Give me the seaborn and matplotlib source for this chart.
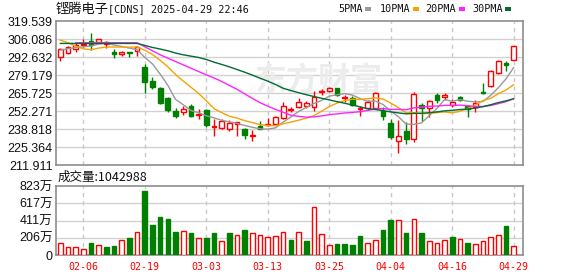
import numpy as np
import pandas as pd
import matplotlib
matplotlib.use("Agg")
import matplotlib.pyplot as plt
import seaborn as sns

# ---------------- data ----------------
dates = ["02-03", "02-04", "02-05", "02-06", "02-07", "02-10", "02-11", "02-12", "02-13", "02-14",
         "02-18", "02-19", "02-20", "02-21", "02-24", "02-25", "02-26", "02-27", "02-28",
         "03-03", "03-04", "03-05", "03-06", "03-07", "03-10", "03-11", "03-12", "03-13", "03-14",
         "03-17", "03-18", "03-19", "03-20", "03-21", "03-24", "03-25", "03-26", "03-27", "03-28",
         "03-31", "04-01", "04-02", "04-03", "04-04", "04-07", "04-08", "04-09", "04-10", "04-11",
         "04-14", "04-15", "04-16", "04-17", "04-21", "04-22", "04-23", "04-24", "04-25", "04-28",
         "04-29"]

opens = [293.1, 296.0, 298.6, 301.5, 304.6, 304.3, 302.6, 296.9, 294.9, 296.6,
         297.6, 285.6, 274.9, 269.7, 262.5, 252.8, 251.5, 256.3, 249.5, 253.3,
         240.8, 239.8, 238.8, 243.0, 238.8, 233.8, 241.3, 242.0, 243.1, 247.6,
         253.0, 255.8, 256.3, 255.3, 267.0, 267.8, 269.8, 262.3, 262.3, 253.8,
         254.8, 254.8, 252.8, 243.3, 229.8, 237.6, 231.3, 257.0, 255.0, 264.5,
         262.7, 257.3, 263.0, 256.3, 255.3, 267.0, 271.0, 280.7, 288.6, 290.4]
highs = [299.4, 301.1, 303.6, 306.5, 310.5, 306.5, 304.5, 298.8, 297.6, 296.6,
         301.1, 287.4, 277.7, 270.7, 263.2, 254.5, 256.3, 257.8, 253.8, 253.8,
         246.3, 246.3, 245.8, 244.3, 239.5, 238.3, 244.8, 247.0, 248.6, 259.1,
         255.3, 262.0, 259.8, 267.5, 268.8, 270.2, 269.8, 264.8, 263.8, 256.3,
         260.8, 267.0, 255.3, 246.8, 245.8, 244.6, 267.0, 258.8, 260.8, 266.2,
         265.7, 261.8, 263.7, 257.0, 260.8, 273.7, 283.2, 290.6, 290.1, 300.9]
lows = [290.1, 295.0, 296.8, 300.0, 298.1, 303.0, 299.3, 292.4, 293.9, 292.6,
        293.7, 265.7, 269.0, 257.8, 252.0, 247.5, 249.8, 248.3, 246.3, 240.8,
        233.8, 238.8, 237.8, 234.1, 231.8, 230.3, 239.3, 241.5, 242.1, 246.6,
        251.8, 254.5, 254.8, 252.8, 264.8, 266.8, 263.8, 259.3, 256.3, 249.1,
        253.0, 254.3, 245.8, 231.8, 221.3, 227.9, 229.6, 245.3, 248.3, 258.3,
        260.8, 255.3, 259.8, 248.3, 252.0, 265.2, 270.7, 280.2, 282.7, 290.4]
closes = [298.6, 300.1, 302.0, 302.5, 301.6, 306.1, 303.8, 294.9, 296.9, 295.9,
          300.6, 274.4, 270.7, 258.8, 253.3, 248.8, 254.3, 249.1, 250.3, 241.8,
          241.3, 244.8, 243.8, 244.0, 234.3, 234.6, 239.3, 243.0, 248.1, 256.1,
          253.8, 259.3, 258.3, 262.8, 267.8, 269.8, 264.5, 262.8, 257.3, 254.8,
          259.3, 266.0, 249.1, 232.8, 233.8, 231.6, 265.2, 254.8, 259.8, 260.8,
          264.2, 259.3, 260.8, 253.8, 258.3, 266.0, 282.2, 289.9, 286.6, 300.9]

# volume in 万 (10k shares)
volume_wan = [139, 91, 91, 68, 143, 115, 95, 107, 175, 203,
              270, 763, 358, 453, 429, 274, 282, 262, 199, 203,
              262, 167, 262, 235, 298, 258, 235, 215, 223, 274,
              181, 274, 167, 569, 247, 115, 131, 131, 119, 227,
              143, 175, 298, 417, 413, 262, 425, 262, 167, 143,
              175, 215, 187, 143, 127, 167, 211, 235, 346, 104]
# 1 = red (up vs previous close), 0 = green
vol_up = [1, 1, 1, 1, 0, 1, 0, 0, 1, 0,
          1, 0, 0, 0, 0, 0, 1, 0, 1, 0,
          0, 1, 0, 1, 0, 1, 1, 1, 1, 1,
          0, 1, 0, 1, 1, 1, 0, 0, 0, 0,
          1, 1, 0, 0, 1, 0, 1, 0, 1, 1,
          1, 0, 1, 0, 1, 1, 1, 1, 0, 1]

ma5 = [298.0, 299.0, 300.0, 300.5, 301.0, 302.5, 303.2, 301.8, 300.7, 299.5,
       298.4, 292.5, 287.7, 280.1, 271.6, 261.2, 257.2, 252.9, 251.2, 248.9,
       247.4, 245.5, 244.4, 243.2, 241.7, 240.3, 239.2, 238.9, 239.9, 244.2,
       248.1, 252.1, 255.1, 258.1, 260.4, 263.6, 264.6, 265.5, 264.4, 261.8,
       259.7, 260.0, 257.3, 252.4, 248.2, 242.7, 242.5, 243.6, 249.0, 254.4,
       261.0, 259.8, 261.0, 259.8, 259.3, 259.6, 264.2, 270.0, 276.6, 285.1]
ma10 = [305.5, 303.5, 301.0, 299.0, 298.3, 299.5, 300.3, 300.3, 300.3, 300.2,
        300.4, 297.9, 294.7, 290.4, 285.5, 279.8, 274.9, 270.3, 265.6, 260.2,
        254.3, 251.3, 248.6, 247.2, 245.3, 243.8, 242.3, 241.7, 241.5, 242.9,
        244.2, 245.6, 247.1, 249.0, 252.3, 255.8, 258.4, 260.3, 261.3, 261.1,
        261.7, 262.3, 261.4, 258.4, 255.0, 251.2, 251.3, 250.5, 250.7, 251.3,
        251.8, 251.1, 252.3, 254.4, 256.9, 260.3, 262.0, 265.5, 268.2, 272.2]
ma20 = [np.nan, np.nan, 303.5, 303.5, 303.5, 303.5, 303.5, 303.5, 303.5, 303.5,
        303.5, 300.5, 297.5, 294.5, 292.0, 289.5, 287.0, 284.5, 282.0, 279.5,
        277.2, 274.6, 271.6, 268.7, 265.3, 261.9, 258.7, 256.1, 253.7, 251.6,
        249.3, 248.5, 247.9, 248.1, 248.8, 249.8, 250.3, 251.0, 251.4, 252.0,
        252.9, 254.0, 254.3, 253.7, 253.7, 253.5, 254.8, 255.4, 256.0, 256.2,
        256.7, 256.7, 256.9, 256.4, 255.9, 255.8, 256.6, 258.0, 259.5, 261.8]
ma30 = [303.0, 303.0, 303.0, 303.0, 303.0, 303.0, 303.0, 303.0, 303.0, 303.0,
        303.0, 301.5, 300.0, 298.8, 297.5, 295.8, 294.5, 293.5, 292.5, 291.0,
        289.0, 287.3, 285.5, 283.5, 281.5, 279.3, 277.0, 274.8, 272.3, 269.5,
        267.8, 266.2, 264.7, 263.3, 262.0, 260.8, 259.5, 258.3, 257.0, 255.6,
        254.2, 253.6, 252.8, 251.8, 251.1, 250.4, 250.7, 250.8, 251.2, 251.8,
        252.6, 253.0, 253.6, 253.9, 254.7, 255.8, 257.2, 258.8, 260.1, 261.6]

price_ticks = [211.911, 225.364, 238.818, 252.271, 265.725, 279.179, 292.632, 306.086, 319.539]
price_labels = ["211.911", "225.364", "238.818", "252.271", "265.725", "279.179", "292.632", "306.086", "319.539"]
vol_ticks = [0, 206, 411, 617, 823]
vol_labels = ["0", "206万", "411万", "617万", "823万"]
xtick_idx = [3, 11, 19, 27, 35, 43, 51, 59]

title_name = "铿腾电子"
title_rest = "[CDNS] 2025-04-29 22:46"
vol_title = "成交量:1042988"
legend_names = ["5PMA", "10PMA", "20PMA", "30PMA"]

# ---------------- style ----------------
sns.set_style("white")
plt.rcParams["font.family"] = ["Liberation Sans", "Noto Sans CJK SC", "DejaVu Sans"]

RED = "#ff0000"
GREEN = "#008000"
MA_COLORS = ["#999999", "#f5a300", "#ff22ff", "#006b33"]
GRID = "#d2d2d2"
FRAME = "#8e8e8e"

W, H = 578, 276
fig = plt.figure(figsize=(W / 100, H / 100), dpi=100)


def fx(px):
    return px / W


def fy(py):
    return 1 - py / H


L, R = 56, 523
ax = fig.add_axes([fx(L), fy(165.3), fx(R) - fx(L), fy(21.3) - fy(165.3)])
axv = fig.add_axes([fx(L), fy(255), fx(R) - fx(L), fy(186) - fy(255)])

df = pd.DataFrame({"date": dates, "open": opens, "high": highs, "low": lows,
                   "close": closes, "vol": volume_wan, "vup": vol_up,
                   "ma5": ma5, "ma10": ma10, "ma20": ma20, "ma30": ma30})
df["x"] = np.arange(len(df))
n = len(df)
XLIM = (-0.55, n + 0.2)

# ---------------- price panel ----------------
ax.set_xlim(*XLIM)
ax.set_ylim(price_ticks[0], price_ticks[-1])
for t in price_ticks[1:-1]:
    ax.axhline(t, color=GRID, lw=1.0, zorder=0)
for i in xtick_idx:
    ax.axvline(i, color="#c8c8c8", lw=1.0, ls=(0, (3, 3)), zorder=0)

# watermark
ax.text(33.5, 274.5, "东方财富", fontsize=23, color="#ececec", ha="center", va="center",
        family=["Noto Sans CJK SC"], fontweight="bold", style="italic", zorder=0.5)

up = df["close"] >= df["open"]
body_lo = np.minimum(df["open"], df["close"])
body_h = np.maximum(np.abs(df["close"] - df["open"]), 0.3)
wick_col = np.where(up, RED, GREEN)
ax.vlines(df["x"], df["low"], df["high"], colors=wick_col, lw=1.0, zorder=2)
ax.bar(df["x"][up], body_h[up], bottom=body_lo[up], width=0.62,
       facecolor="white", edgecolor=RED, linewidth=1.0, zorder=3)
ax.bar(df["x"][~up], body_h[~up], bottom=body_lo[~up], width=0.62,
       facecolor=GREEN, edgecolor=GREEN, linewidth=1.0, zorder=3)

for col, c in zip(["ma5", "ma10", "ma20", "ma30"], MA_COLORS):
    sns.lineplot(data=df, x="x", y=col, ax=ax, color=c, linewidth=1.0,
                 estimator=None, legend=False, zorder=4)

ax.set_yticks(price_ticks)
ax.set_yticklabels(price_labels)
ax.set_xticks([])
ax.tick_params(axis="y", length=0, pad=2.5, labelsize=9, labelcolor="#111111")
ax.set_xlabel("")
ax.set_ylabel("")
for s in ax.spines.values():
    s.set_color(FRAME)
    s.set_linewidth(1.2)
    s.set_visible(True)

# ---------------- volume panel ----------------
axv.set_xlim(*XLIM)
axv.set_ylim(0, vol_ticks[-1])
for t in vol_ticks[1:-1]:
    axv.axhline(t, color=GRID, lw=1.0, zorder=0)
for i in xtick_idx:
    axv.axvline(i, color="#c8c8c8", lw=1.0, ls=(0, (3, 3)), zorder=0)

vu = df["vup"] == 1
axv.bar(df["x"][vu], df["vol"][vu], width=0.6, facecolor="white",
        edgecolor=RED, linewidth=1.0, zorder=3)
axv.bar(df["x"][~vu], df["vol"][~vu], width=0.6, facecolor=GREEN,
        edgecolor=GREEN, linewidth=1.0, zorder=3)

axv.set_yticks(vol_ticks)
axv.set_yticklabels(vol_labels)
axv.set_xticks(xtick_idx)
axv.set_xticklabels([dates[i] for i in xtick_idx], family=["DejaVu Sans Mono"],
                    fontsize=7.2, color=RED)
axv.tick_params(axis="y", length=0, pad=2.5, labelsize=9, labelcolor="#111111")
axv.tick_params(axis="x", length=0, pad=5)
axv.set_xlabel("")
axv.set_ylabel("")
for s in axv.spines.values():
    s.set_color(FRAME)
    s.set_linewidth(1.2)
    s.set_visible(True)

# ---------------- texts ----------------
fig.text(fx(56), fy(9), title_name, family=["Noto Sans CJK SC"], fontsize=9.5,
         va="center", ha="left", color="#111111")
fig.text(fx(108.5), fy(9), title_rest, family=["DejaVu Sans Mono"], fontsize=7.3,
         va="center", ha="left", color="#111111")
fig.text(fx(57.5), fy(177), vol_title, family=["Noto Sans CJK SC", "DejaVu Sans"], fontsize=9,
         va="center", ha="left", color="#111111")

leg_text_x = [338, 380, 425, 472]
leg_sq_x = [365, 413, 459, 505]
for name, tx, sx, c in zip(legend_names, leg_text_x, leg_sq_x, MA_COLORS):
    fig.text(fx(tx), fy(9), name, family=["DejaVu Sans Mono"], fontsize=7.3,
             va="center", ha="left", color="#111111")
    fig.add_artist(plt.Rectangle((fx(sx), fy(11)), 6 / W, 4 / H,
                                 transform=fig.transFigure, color=c, lw=0))

fig.savefig("out.png", dpi=100)
